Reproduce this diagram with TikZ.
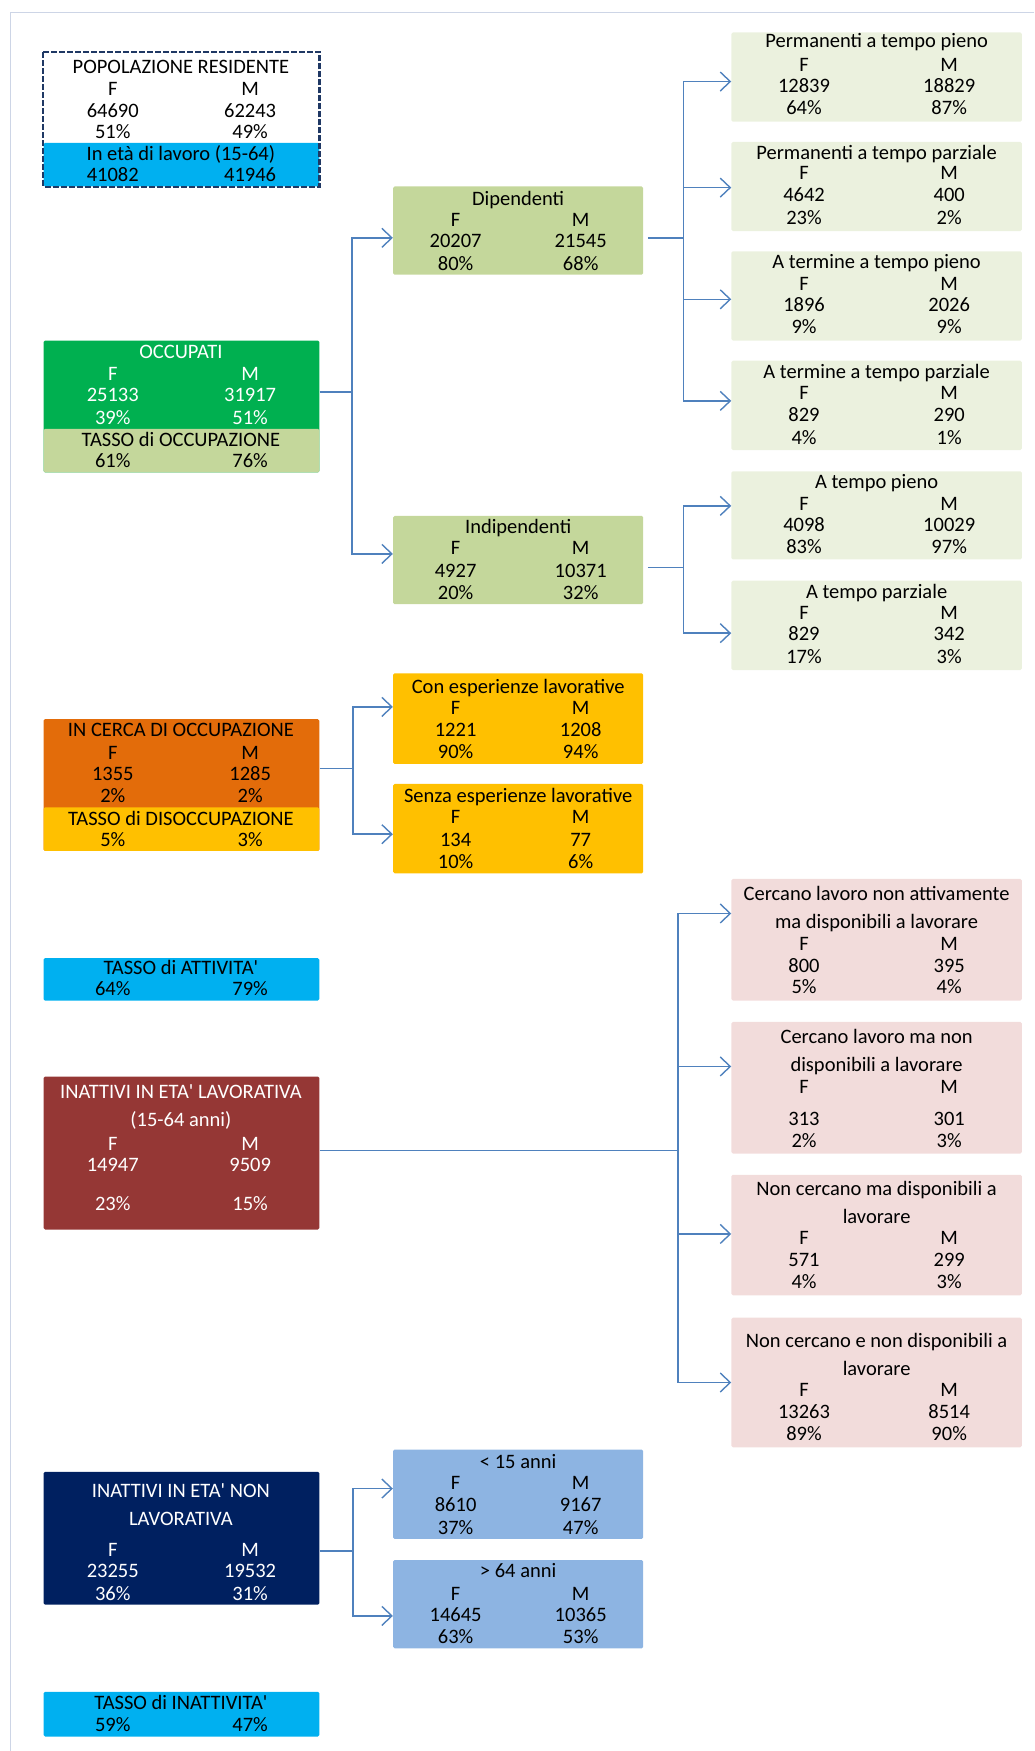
\documentclass[tikz,border=0pt]{standalone}
\usepackage{fontspec}
\setmainfont{Carlito}
\usetikzlibrary{fit,calc,arrows.meta}

\definecolor{wireblue}{HTML}{4F81BD}
\definecolor{popnavy}{HTML}{1F3864}
\definecolor{skyc}{HTML}{00B0F0}
\definecolor{greenc}{HTML}{00B050}
\definecolor{olivec}{HTML}{C4D79B}
\definecolor{palegreen}{HTML}{EBF1DE}
\definecolor{orangec}{HTML}{E36C0A}
\definecolor{goldc}{HTML}{FFC000}
\definecolor{redc}{HTML}{953735}
\definecolor{pinkc}{HTML}{F2DCDB}
\definecolor{navyc}{HTML}{002060}
\definecolor{bluec}{HTML}{8DB4E2}
\definecolor{framec}{HTML}{CDD5E6}

% one row of F / M values, columns at \xf and \xm
\newcommand{\fm}[4]{%
  \node[entry] (#1f) at (\xf,#2) {#3};
  \node[entry] (#1m) at (\xm,#2) {#4};}

\begin{document}
\begin{tikzpicture}[x=1.1166pt,y=-1.1166pt,
    panel/.style={inner sep=0,rounded corners=1.5pt,fit={#1}},
    entry/.style={inner sep=0,anchor=base,yshift=-6.5pt,font=\fontsize{20.5}{23}\selectfont},
    wire/.style={wireblue,line width=1.4pt},
    opentip/.style={-{Straight Barb[length=10pt,width=19pt]}}]
  \useasboundingbox (0,0) rectangle (926,1568);
  \draw[framec,line width=0.8pt] (926,11) -- (9,11) -- (9,1568);

  % left column
  \def\xf{101}\def\xm{224}
  \node[panel={(39,47)(286,167)},fill=white] (pop) {};
  \node[panel={(39,128)(286,167)},fill=skyc] (popb) {};
  \draw[popnavy,line width=2.2pt,dash pattern=on 6pt off 2pt] (pop.north west) rectangle (pop.south east);
  \node[entry] (popt) at (162,60) {POPOLAZIONE RESIDENTE};
  \fm{pop1}{80}{F}{M}
  \fm{pop2}{99}{64690}{62243}
  \fm{pop3}{118}{51\%}{49\%}
  \node[entry] (popbt) at (162,138) {In età di lavoro (15-64)};
  \fm{pop4}{157}{41082}{41946}

  \node[panel={(39,305)(286,423)},fill=greenc] (occ) {};
  \node[panel={(39,384)(286,423)},fill=olivec] (occb) {};
  \begin{scope}[entry/.append style={text=white}]
    \node[entry] (occt) at (162,315) {OCCUPATI};
    \fm{occ1}{335}{F}{M}
    \fm{occ2}{354}{25133}{31917}
    \fm{occ3}{374}{39\%}{51\%}
  \end{scope}
  \node[entry] (occbt) at (162,394) {TASSO di OCCUPAZIONE};
  \fm{occ4}{413}{61\%}{76\%}

  \node[panel={(39,644)(286,762)},fill=orangec] (cerca) {};
  \node[panel={(39,723)(286,762)},fill=goldc] (cercab) {};
  \node[entry] (cercat) at (162,654) {IN CERCA DI OCCUPAZIONE};
  \fm{cer1}{674}{F}{M}
  \fm{cer2}{693}{1355}{1285}
  \fm{cer3}{713}{2\%}{2\%}
  \node[entry] (cercabt) at (162,733) {TASSO di DISOCCUPAZIONE};
  \fm{cer4}{752}{5\%}{3\%}

  \node[panel={(39,858)(286,896)},fill=skyc] (att) {};
  \node[entry] (attt) at (162,867) {TASSO di ATTIVITA\textquotesingle};
  \fm{att1}{886}{64\%}{79\%}

  \node[panel={(39,964)(286,1101)},fill=redc] (inl) {};
  \node[panel={(39,1318)(286,1437)},fill=navyc] (inn) {};
  \begin{scope}[entry/.append style={text=white}]
    \node[entry] (inlt) at (162,978) {INATTIVI IN ETA\textquotesingle{} LAVORATIVA};
    \node[entry] (inlt2) at (162,1003) {(15-64 anni)};
    \fm{inl1}{1024}{F}{M}
    \fm{inl2}{1043}{14947}{9509}
    \fm{inl3}{1078}{23\%}{15\%}
    \node[entry] (innt) at (162,1335) {INATTIVI IN ETA\textquotesingle{} NON};
    \node[entry] (innt2) at (162,1360) {LAVORATIVA};
    \fm{inn1}{1388}{F}{M}
    \fm{inn2}{1407}{23255}{19532}
    \fm{inn3}{1427}{36\%}{31\%}
  \end{scope}

  \node[panel={(39,1515)(286,1555)},fill=skyc] (inatt) {};
  \node[entry] (inattt) at (162,1525) {TASSO di INATTIVITA\textquotesingle};
  \fm{ina1}{1545}{59\%}{47\%}

  % middle column
  \def\xf{408}\def\xm{520}
  \node[panel={(352,167)(576,246)},fill=olivec] (dip) {};
  \node[entry] (dipt) at (464,178) {Dipendenti};
  \fm{dip1}{197}{F}{M}
  \fm{dip2}{216}{20207}{21545}
  \fm{dip3}{236}{80\%}{68\%}

  \node[panel={(352,462)(576,541)},fill=olivec] (ind) {};
  \node[entry] (indt) at (464,472) {Indipendenti};
  \fm{ind1}{491}{F}{M}
  \fm{ind2}{511}{4927}{10371}
  \fm{ind3}{531}{20\%}{32\%}

  \node[panel={(352,603)(576,684)},fill=goldc] (con) {};
  \node[entry] (cont) at (464,615) {Con esperienze lavorative};
  \fm{con1}{634}{F}{M}
  \fm{con2}{654}{1221}{1208}
  \fm{con3}{673}{90\%}{94\%}

  \node[panel={(352,702)(576,782)},fill=goldc] (senza) {};
  \node[entry] (senzat) at (464,713) {Senza esperienze lavorative};
  \fm{sen1}{732}{F}{M}
  \fm{sen2}{752}{134}{77}
  \fm{sen3}{772}{10\%}{6\%}

  \node[panel={(352,1298)(576,1378)},fill=bluec] (u15) {};
  \node[entry] (u15t) at (464,1309) {< 15 anni};
  \fm{u151}{1328}{F}{M}
  \fm{u152}{1348}{8610}{9167}
  \fm{u153}{1368}{37\%}{47\%}

  \node[panel={(352,1397)(576,1476)},fill=bluec] (o64) {};
  \node[entry] (o64t) at (464,1407) {> 64 anni};
  \fm{o641}{1427}{F}{M}
  \fm{o642}{1446}{14645}{10365}
  \fm{o643}{1466}{63\%}{53\%}

  % right column
  \def\xf{720}\def\xm{850}
  \node[panel={(655,29)(915,109)},fill=palegreen] (ptp) {};
  \node[entry] (ptpt) at (785,37) {Permanenti a tempo pieno};
  \fm{ptp1}{58}{F}{M}
  \fm{ptp2}{77}{12839}{18829}
  \fm{ptp3}{97}{64\%}{87\%}

  \node[panel={(655,127)(915,207)},fill=palegreen] (ptz) {};
  \node[entry] (ptzt) at (785,137) {Permanenti a tempo parziale};
  \fm{ptz1}{155}{F}{M}
  \fm{ptz2}{175}{4642}{400}
  \fm{ptz3}{195}{23\%}{2\%}

  \node[panel={(655,225)(915,305)},fill=palegreen] (ttp) {};
  \node[entry] (ttpt) at (785,235) {A termine a tempo pieno};
  \fm{ttp1}{254}{F}{M}
  \fm{ttp2}{273}{1896}{2026}
  \fm{ttp3}{293}{9\%}{9\%}

  \node[panel={(655,323)(915,403)},fill=palegreen] (ttz) {};
  \node[entry] (ttzt) at (785,333) {A termine a tempo parziale};
  \fm{ttz1}{352}{F}{M}
  \fm{ttz2}{372}{829}{290}
  \fm{ttz3}{392}{4\%}{1\%}

  \node[panel={(655,422)(915,501)},fill=palegreen] (ip) {};
  \node[entry] (ipt) at (785,432) {A tempo pieno};
  \fm{ip1}{451}{F}{M}
  \fm{ip2}{470}{4098}{10029}
  \fm{ip3}{490}{83\%}{97\%}

  \node[panel={(655,520)(915,600)},fill=palegreen] (iz) {};
  \node[entry] (izt) at (785,530) {A tempo parziale};
  \fm{iz1}{549}{F}{M}
  \fm{iz2}{568}{829}{342}
  \fm{iz3}{588}{17\%}{3\%}

  \node[panel={(655,787)(915,896)},fill=pinkc] (cl1) {};
  \node[entry] (cl1t) at (785,801) {Cercano lavoro non attivamente};
  \node[entry] (cl1t2) at (785,826) {ma disponibili a lavorare};
  \fm{cla1}{845}{F}{M}
  \fm{cla2}{865}{800}{395}
  \fm{cla3}{884}{5\%}{4\%}

  \node[panel={(655,915)(915,1033)},fill=pinkc] (cl2) {};
  \node[entry] (cl2t) at (785,929) {Cercano lavoro ma non};
  \node[entry] (cl2t2) at (785,954) {disponibili a lavorare};
  \fm{clb1}{973}{F}{M}
  \fm{clb2}{1002}{313}{301}
  \fm{clb3}{1022}{2\%}{3\%}

  \node[panel={(655,1052)(915,1160)},fill=pinkc] (cl3) {};
  \node[entry] (cl3t) at (785,1065) {Non cercano ma disponibili a};
  \node[entry] (cl3t2) at (785,1090) {lavorare};
  \fm{clc1}{1109}{F}{M}
  \fm{clc2}{1128}{571}{299}
  \fm{clc3}{1148}{4\%}{3\%}

  \node[panel={(655,1180)(915,1296)},fill=pinkc] (cl4) {};
  \node[entry] (cl4t) at (785,1201) {Non cercano e non disponibili a};
  \node[entry] (cl4t2) at (785,1226) {lavorare};
  \fm{cld1}{1245}{F}{M}
  \fm{cld2}{1264}{13263}{8514}
  \fm{cld3}{1284}{89\%}{90\%}

  % connectors
  \draw[wire] ($(occ.east)+(0,-13)$) -- ++(29,0) coordinate (kocc);
  \draw[wire,opentip] (kocc) |- ($(dip.west)+(0,6.5)$);
  \draw[wire,opentip] (kocc) |- ($(ind.west)+(0,-5.5)$);

  \draw[wire] ($(dip.east)+(4,6.5)$) -- ++(32,0) coordinate (kdip);
  \draw[wire,opentip] (kdip) |- ($(ptp.west)+(0,4)$);
  \draw[wire,opentip] (kdip) |- ($(ptz.west)+(0,1)$);
  \draw[wire,opentip] (kdip) |- ($(ttp.west)+(0,3)$);
  \draw[wire,opentip] (kdip) |- ($(ttz.west)+(0,-4)$);

  \draw[wire] ($(ind.east)+(4,6.5)$) -- ++(32,0) coordinate (kind);
  \draw[wire,opentip] (kind) |- ($(ip.west)+(0,-8.5)$);
  \draw[wire,opentip] (kind) |- ($(iz.west)+(0,7)$);

  \draw[wire] ($(cerca.east)+(0,-15)$) -- ++(30,0) coordinate (kcer);
  \draw[wire,opentip] (kcer) |- ($(con.west)+(0,-10.5)$);
  \draw[wire,opentip] (kcer) |- ($(senza.west)+(0,5)$);

  \draw[wire] ($(inl.east)+(0,-2.5)$) -- ++(321,0) coordinate (kinl);
  \draw[wire,opentip] (kinl) |- ($(cl1.west)+(0,-23.5)$);
  \draw[wire,opentip] (kinl) |- ($(cl2.west)+(0,-19)$);
  \draw[wire,opentip] (kinl) |- ($(cl3.west)+(0,-1)$);
  \draw[wire,opentip] (kinl) |- (cl4.west);

  \draw[wire] ($(inn.east)+(0,11.5)$) -- ++(30,0) coordinate (kinn);
  \draw[wire,opentip] (kinn) |- ($(u15.west)+(0,-5)$);
  \draw[wire,opentip] (kinn) |- ($(o64.west)+(0,10.5)$);
\end{tikzpicture}
\end{document}
